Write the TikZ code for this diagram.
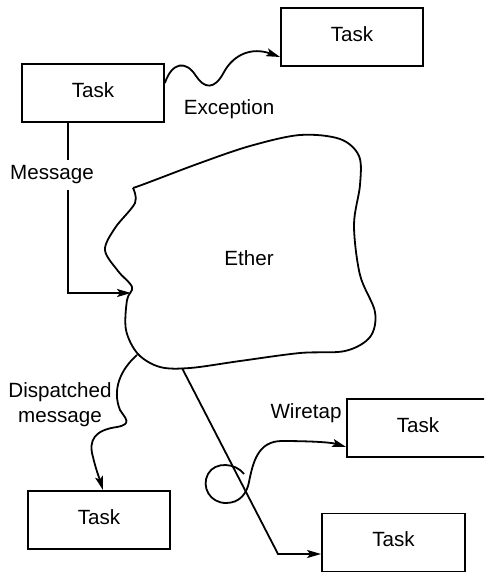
\documentclass[tikz,border=0pt]{standalone}
\usepackage{fontspec}
\setmainfont{Liberation Sans}
\usetikzlibrary{arrows.meta}

\begin{document}
\begin{tikzpicture}[
  x=0.5pt, y=-0.5pt,
  font=\fontsize{10.3}{12.5}\selectfont,
  task/.style={draw, line width=0.9pt, minimum width=71pt, minimum height=29pt,
    text depth=3pt, inner sep=0pt},
  flow/.style={line width=0.9pt, -{Stealth[length=7pt,width=4pt,inset=1.5pt]}},
  wire/.style={line width=0.9pt}
]
\useasboundingbox (0,0) rectangle (484,574);
\clip (0,0) rectangle (484,574);

% the tasks
\node[task] (taskLeft) at (93,93) {Task};
\node[task] (taskTop) at (352,37) {Task};
\node[task] (taskDisp) at (99,520) {Task};
\node[task] (taskTap) at (418,428) {Task};
\node[task, minimum width=71.5pt] (taskEnd) at (393.5,542.5) {Task};

% the ether cloud
\draw[wire] plot[smooth, tension=0.55] coordinates {
  (133,188) (147,183) (200,163) (250,146) (300,135) (340,139) (359,156)
  (360,185) (354,225) (360,275) (375,312) (370,337) (345,351) (300,353)
  (240,361) (190,368) (160,367) (138,354) (126,330) (127,300) (132,287)
  (118,271) (105,250) (115,228) (135,203) (133,188)};
\node (ether) at (249,258) {Ether};
\coordinate (etherW) at (131,293);
\coordinate (etherSW) at (137,355);
\coordinate (etherS) at (182,368);
\coordinate (bend) at (278,554);

% exception
\draw[flow] ([yshift=5pt]taskLeft.east) .. controls (172,62) and (186,60) .. (196,76)
  .. controls (204,88) and (214,91) .. (224,72)
  .. controls (234,54) and (252,47) .. ([yshift=-10pt]taskTop.west);
\node (exc) at (229,109) {Exception};

% message into the ether
\draw[flow] (taskLeft.south west) ++(47,0) |- (etherW);
\node[fill=white, inner sep=3pt] (msg) at (52,175) {Message};

% dispatched message
\draw[flow] (etherSW) .. controls (120,370) and (112,390) .. (120,410)
  .. controls (125,418) and (133,424) .. (117,427)
  .. controls (95,430) and (88,440) .. (93,457)
  .. controls (96,470) and (100,480) .. ([xshift=2pt]taskDisp.north);
\node[align=center] (disp) at (60,405) {Dispatched\\message};

% straight through to the last task
\draw[flow] (etherS) -- (bend) -- (bend -| taskEnd.west);

% wiretap loop round the line
\draw[flow] (244,474) .. controls (236,463) and (215,461) .. (208,474)
  .. controls (201,487) and (210,503) .. (226,503)
  .. controls (240,503) and (247,493) .. (249,482)
  .. controls (253,462) and (258,441) .. (282,441)
  .. controls (305,441) and (330,442) .. ([yshift=-9.5pt]taskTap.west);
\node (tap) at (306,413) {Wiretap};
\end{tikzpicture}
\end{document}
